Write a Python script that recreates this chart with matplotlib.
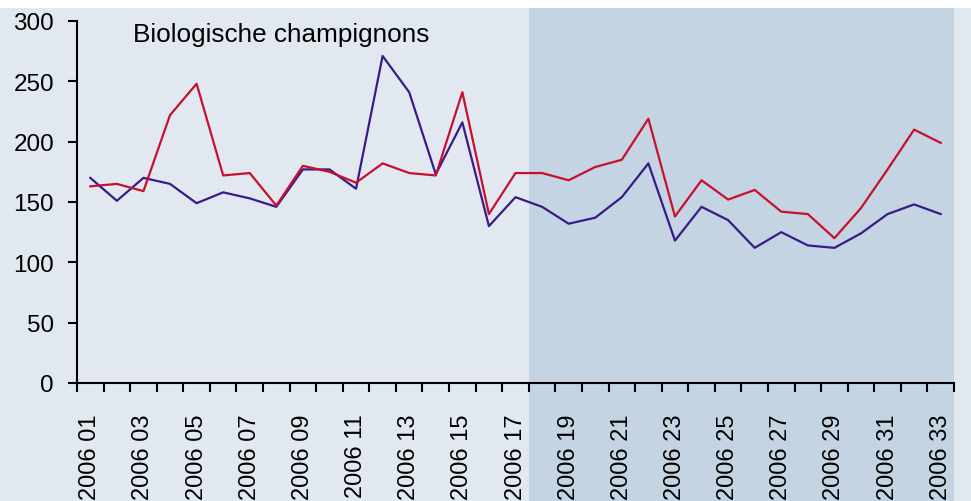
import matplotlib
matplotlib.use('Agg')
import matplotlib.pyplot as plt
from matplotlib.patches import Rectangle
from matplotlib.transforms import blended_transform_factory

plt.rcParams['font.family'] = ['Liberation Sans', 'DejaVu Sans']

# weeks 2006 01 .. 2006 33
weeks = list(range(1, 34))
week_labels = ['2006 %02d' % w for w in weeks]

purple = [170, 151, 170, 165, 149, 158, 153, 146, 177, 177, 161, 271, 241, 173, 216, 130, 154,
          146, 132, 137, 154, 182, 118, 146, 135, 112, 125, 114, 112, 124, 140, 148, 140]
red = [163, 165, 159, 222, 248, 172, 174, 147, 180, 175, 166, 182, 174, 172, 241, 140, 174,
       174, 168, 179, 185, 219, 138, 168, 152, 160, 142, 140, 120, 145, 177, 210, 199]

shade_from = 17.5  # shaded period starts at week 18

bg = '#e1e8f0'
shade = '#c4d4e2'

fig = plt.figure(figsize=(9.71, 5.02), dpi=100, facecolor=bg)
ax = fig.add_axes([77 / 971, 118 / 502, 877 / 971, 362 / 502])
ax.set_facecolor('none')

# shaded band runs over the full figure height (below the white strip)
tr = blended_transform_factory(ax.transData, fig.transFigure)
fig.add_artist(Rectangle((shade_from, 0), 33.5 - shade_from, 1 - 9 / 502,
                         transform=tr, facecolor=shade, edgecolor='none', zorder=-2))
fig.add_artist(Rectangle((0, 1 - 9 / 502), 1, 9 / 502, transform=fig.transFigure,
                         facecolor='white', edgecolor='none', zorder=-1))

ax.plot(weeks, purple, color='#3a1a86', lw=1.6, zorder=3)
ax.plot(weeks, red, color='#c8102e', lw=1.6, zorder=3)

ax.set_xlim(0.5, 33.5)
ax.set_ylim(0, 300)
ax.set_yticks(range(0, 301, 50))

ax.set_xticks(weeks[::2])
ax.set_xticklabels(week_labels[::2], rotation=90)
ax.set_xticks([w - 0.5 for w in weeks] + [33.5], minor=True)
ax.tick_params(axis='x', which='major', length=0, pad=22, labelsize=17)
ax.tick_params(axis='x', which='minor', length=6.5, width=1.5, direction='out')
ax.tick_params(axis='y', length=6.5, width=1.5, pad=10, labelsize=17.5)

for s in ['top', 'right']:
    ax.spines[s].set_visible(False)
for s in ['left', 'bottom']:
    ax.spines[s].set_linewidth(1.5)

ax.text((133 - 77) / 877, 0.998, 'Biologische champignons',
        transform=ax.transAxes, fontsize=18.8, va='top', ha='left')

fig.savefig('out.png', dpi=100, facecolor=bg)
